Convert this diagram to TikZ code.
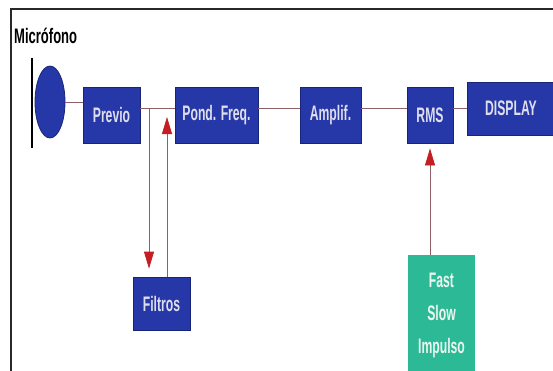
\documentclass[tikz,border=0pt]{standalone}
\usepackage{fontspec}
\setmainfont{Liberation Sans}[FakeStretch=0.58]
\newfontfamily\labelfont{Liberation Sans}[FakeStretch=0.62]
\usetikzlibrary{arrows.meta,shapes.geometric}
\definecolor{boxblue}{RGB}{38,56,168}
\definecolor{boxedge}{RGB}{24,36,120}
\definecolor{boxtext}{RGB}{222,222,236}
\definecolor{fstext}{RGB}{236,246,240}
\definecolor{teal}{RGB}{44,186,150}
\definecolor{wire}{RGB}{140,96,100}
\definecolor{tipred}{RGB}{196,30,34}
\definecolor{frame}{RGB}{40,40,40}
\tikzset{
  block/.style={draw=boxedge, line width=0.8pt, fill=boxblue, text=boxtext,
    font=\fontsize{21}{24}\selectfont\bfseries, inner sep=0pt},
  modebox/.style={fill=teal, text=fstext, align=center,
    font=\fontsize{21}{33}\selectfont\bfseries, inner sep=0pt},
  wireline/.style={draw=wire, line width=0.8pt},
  redtip/.style={wireline, -{Triangle[length=17pt,width=10pt,color=tipred]}}
}
\begin{document}
\begin{tikzpicture}[x=1pt,y=-1pt]
\useasboundingbox (0,0) rectangle (553,370);
% outer frame (top and left edges)
\coordinate (frtl) at (11,9);
\coordinate (frtr) at (560,9);
\coordinate (frbl) at (11,375);
\draw[frame, line width=1.8pt] (frtr) -- (frtl) -- (frbl);

% microphone
\node[font=\labelfont\fontsize{21}{24}\selectfont\bfseries, anchor=west, inner sep=0pt] (miclabel) at (14,36) {Micrófono};
\coordinate (bartop) at (32,58);
\coordinate (barbot) at (32,148);
\draw[black, line width=2pt] (bartop) -- (barbot);
\node[ellipse, draw=boxedge, line width=0.8pt, fill=boxblue, minimum width=30pt, minimum height=72pt, inner sep=0pt] (mic) at (50,102) {};

% signal chain
\coordinate (lineY) at (0,108);
\node[block, minimum width=57pt, minimum height=56pt] (previo) at (111.5,115) {Previo};
\node[block, minimum width=83pt, minimum height=56pt] (pond) at (216.5,115) {Pond. Freq.};
\node[block, minimum width=61pt, minimum height=56pt] (ampl) at (330.5,115) {Amplif.};
\node[block, minimum width=46pt, minimum height=56pt] (rms) at (430,115) {RMS};
\node[block, minimum width=96pt, minimum height=53pt] (display) at (515,108.5) {\hspace*{-8pt}DISPLAY};
\node[block, minimum width=57pt, minimum height=53pt] (filtros) at (161.5,303.5) {Filtros};
\node[modebox, minimum width=67pt, minimum height=120pt] (modes) at (441.5,315) {Fast\\Slow\\Impulso};

% connectors
\draw[wireline] (mic.east) -- (mic.east -| previo.west);
\draw[wireline] (previo.east |- lineY) -- (pond.west |- lineY);
\draw[wireline] (pond.east |- lineY) -- (ampl.west |- lineY);
\draw[wireline] (ampl.east |- lineY) -- (rms.west |- lineY);
\draw[wireline] (rms.east |- lineY) -- (display.west |- lineY);

% filter loop
\coordinate (tapout) at (149,108);
\coordinate (tapin) at (167,108);
\draw[redtip, shorten >=8pt] (tapout) -- (filtros.north -| tapout);
\draw[redtip, shorten >=9pt] (filtros.north -| tapin) -- (tapin);

% weighting mode select
\draw[redtip, shorten >=5pt] (modes.north -| rms.south) -- (rms.south);
\end{tikzpicture}
\end{document}
